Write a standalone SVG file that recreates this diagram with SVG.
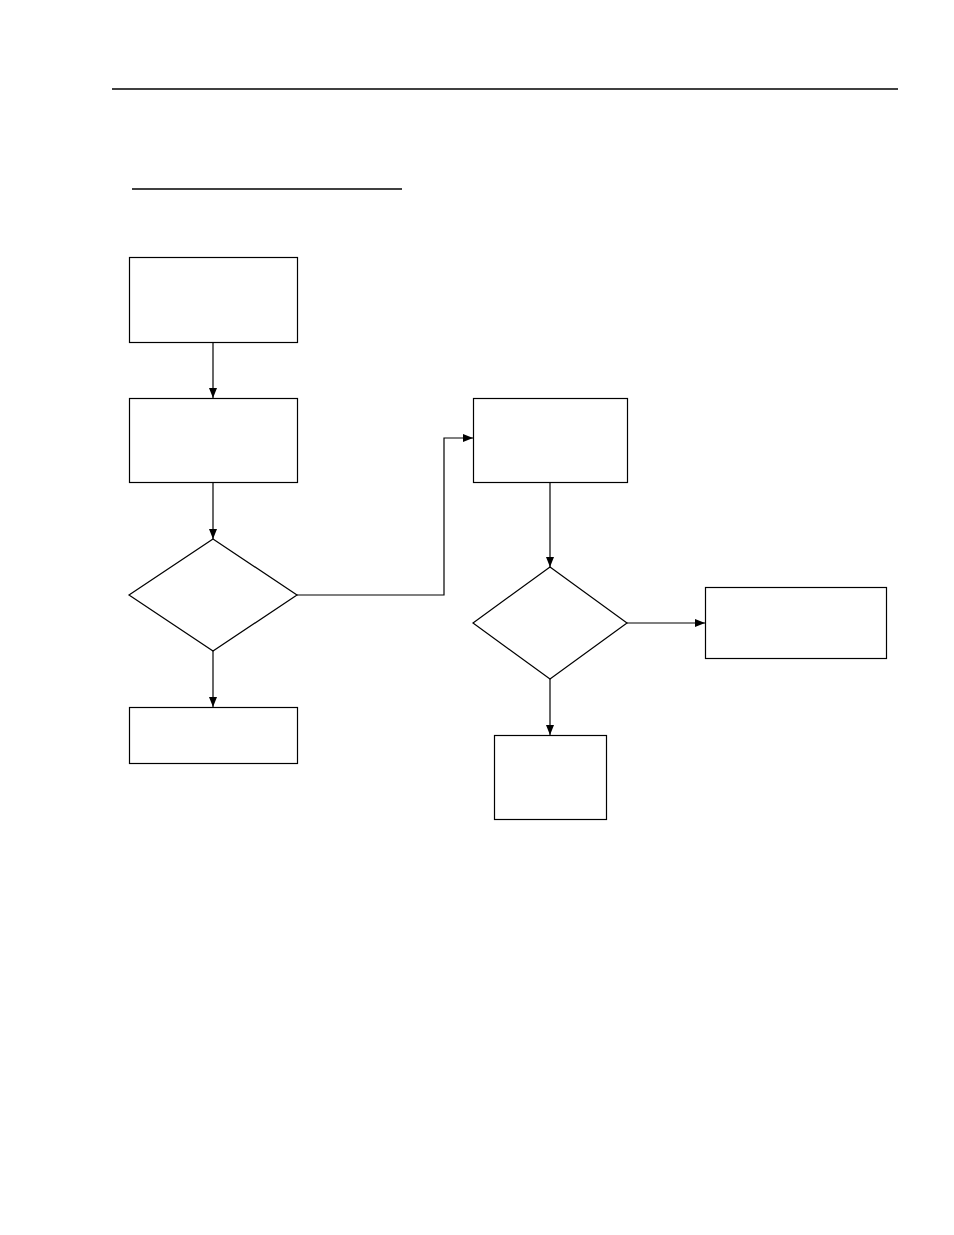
<svg xmlns="http://www.w3.org/2000/svg" width="954" height="1235" viewBox="0 0 954 1235">
<style>
.n{fill:#fff;stroke:#000;stroke-width:1.2}
.c{fill:none;stroke:#000;stroke-width:1.2;marker-end:url(#a)}
.r{stroke:#000;stroke-width:1.5}
</style>
<defs>
<marker id="a" viewBox="0 0 10 10" refX="10" refY="5" markerWidth="10" markerHeight="10" markerUnits="userSpaceOnUse" orient="auto">
<path d="M0,1 L10,5 L0,9 Z" fill="#000"/>
</marker>
</defs>
<rect width="954" height="1235" fill="#fff"/>
<line class="r" x1="112" y1="89" x2="898" y2="89"/>
<line class="r" x1="132" y1="189" x2="402" y2="189"/>
<g id="connectors">
<path class="c" d="M213,342 V398"/>
<path class="c" d="M213,482 V539"/>
<path class="c" d="M213,651 V707"/>
<path class="c" d="M297,595 H444 V438 H473"/>
<path class="c" d="M550,482 V567"/>
<path class="c" d="M627,623 H705"/>
<path class="c" d="M550,679 V735"/>
</g>
<g id="box1"><rect class="n" x="129.5" y="257.5" width="168" height="85"/></g>
<g id="box2"><rect class="n" x="129.5" y="398.5" width="168" height="84"/></g>
<g id="decision1"><polygon class="n" points="213,539 297,595 213,651 129,595"/></g>
<g id="box3"><rect class="n" x="129.5" y="707.5" width="168" height="56"/></g>
<g id="box4"><rect class="n" x="473.5" y="398.5" width="154" height="84"/></g>
<g id="decision2"><polygon class="n" points="550,567 627,623 550,679 473,623"/></g>
<g id="box5"><rect class="n" x="705.5" y="587.5" width="181" height="71"/></g>
<g id="box6"><rect class="n" x="494.5" y="735.5" width="112" height="84"/></g>
</svg>
